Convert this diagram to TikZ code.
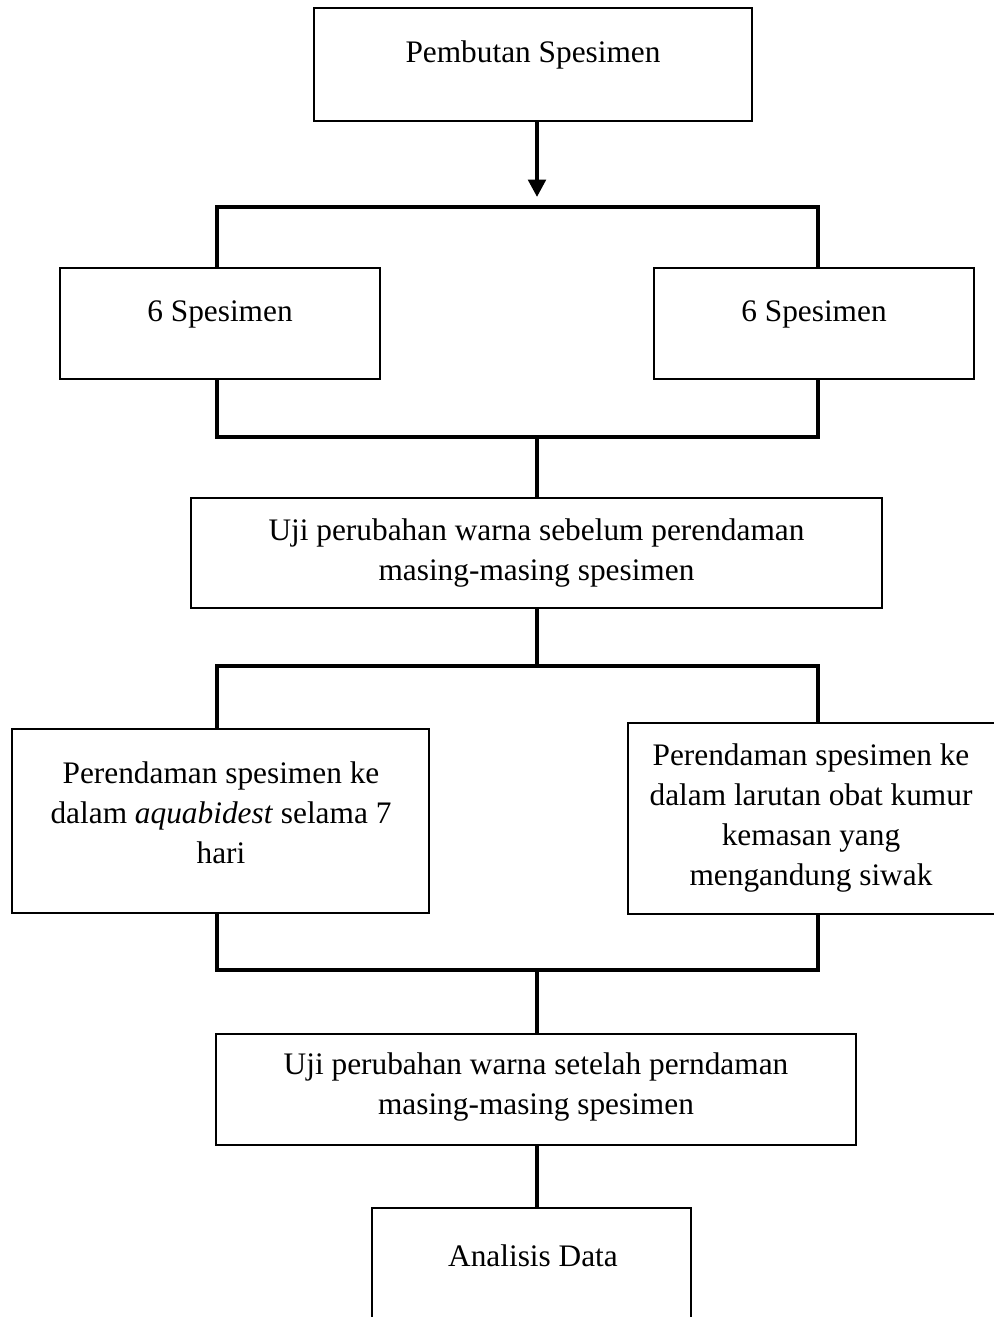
\documentclass[tikz,border=0pt]{standalone}
\usepackage{fontspec}
\setmainfont{Liberation Serif}
\usetikzlibrary{arrows.meta}
\begin{document}
\begin{tikzpicture}[x=0.75pt,y=-0.75pt,
  box/.style={draw,line width=1.5pt,rectangle,inner sep=0pt},
  txt/.style={align=center,font=\fontsize{23.5pt}{30pt}\selectfont,inner sep=0pt},
  conn/.style={line width=3pt},
]
\useasboundingbox (0,0) rectangle (993,1317);
% boxes
\node[box,minimum width=328.5pt,minimum height=84.75pt] (b1) at (533,64.5) {};
\node[box,minimum width=240pt,minimum height=83.25pt] (b2) at (220,323.5) {};
\node[box,minimum width=240pt,minimum height=83.25pt] (b3) at (814,323.5) {};
\node[box,minimum width=518.25pt,minimum height=82.5pt] (b4) at (536.5,553) {};
\node[box,minimum width=312.75pt,minimum height=138pt] (b5) at (220.5,821) {};
\node[box,minimum width=286.5pt,minimum height=143.25pt] (b6) at (819,818.5) {};
\node[box,minimum width=480pt,minimum height=83.25pt] (b7) at (536,1089.5) {};
\node[box,minimum width=239.25pt,minimum height=91.5pt] (b8) at (531.5,1269) {};
% texts
\node[txt] (t1) at (533,55) {Pembutan Spesimen};
\node[txt] (t2) at (220,314) {6 Spesimen};
\node[txt] (t3) at (814,314) {6 Spesimen};
\node[txt] (t4) at (536.5,553) {Uji perubahan warna sebelum perendaman\\masing-masing spesimen};
\node[txt] (t5) at (221,813) {Perendaman spesimen ke\\dalam \textit{aquabidest} selama 7\\hari};
\node[txt] (t6) at (811,818) {Perendaman spesimen ke\\dalam larutan obat kumur\\kemasan yang\\mengandung siwak};
\node[txt] (t7) at (536,1087) {Uji perubahan warna setelah perndaman\\masing-masing spesimen};
\node[txt] (t8) at (533,1256) {Analisis Data};
% coordinates
\coordinate (a1) at (537,197);
\coordinate (h1l) at (217,207);
\coordinate (h1r) at (818,207);
\coordinate (h2l) at (217,437);
\coordinate (h2r) at (818,437);
\coordinate (h3l) at (217,666);
\coordinate (h3r) at (818,666);
\coordinate (h4l) at (217,970);
\coordinate (h4r) at (818,970);
% connectors
\draw[conn,-{Triangle[width=13pt,length=13pt]}] (b1.south -| a1) -- (a1);
\draw[conn] (b2.north -| h1l) -- (h1l) -- (h1r) -- (b3.north -| h1r);
\draw[conn] (b2.south -| h2l) -- (h2l) -- (h2r) -- (b3.south -| h2r);
\draw[conn] (537,437) -- (b4.north -| 537,0);
\draw[conn] (b4.south -| 537,0) -- (537,666);
\draw[conn] (b5.north -| h3l) -- (h3l) -- (h3r) -- (b6.north -| h3r);
\draw[conn] (b5.south -| h4l) -- (h4l) -- (h4r) -- (b6.south -| h4r);
\draw[conn] (537,970) -- (b7.north -| 537,0);
\draw[conn] (b7.south -| 537,0) -- (b8.north -| 537,0);
\end{tikzpicture}
\end{document}
